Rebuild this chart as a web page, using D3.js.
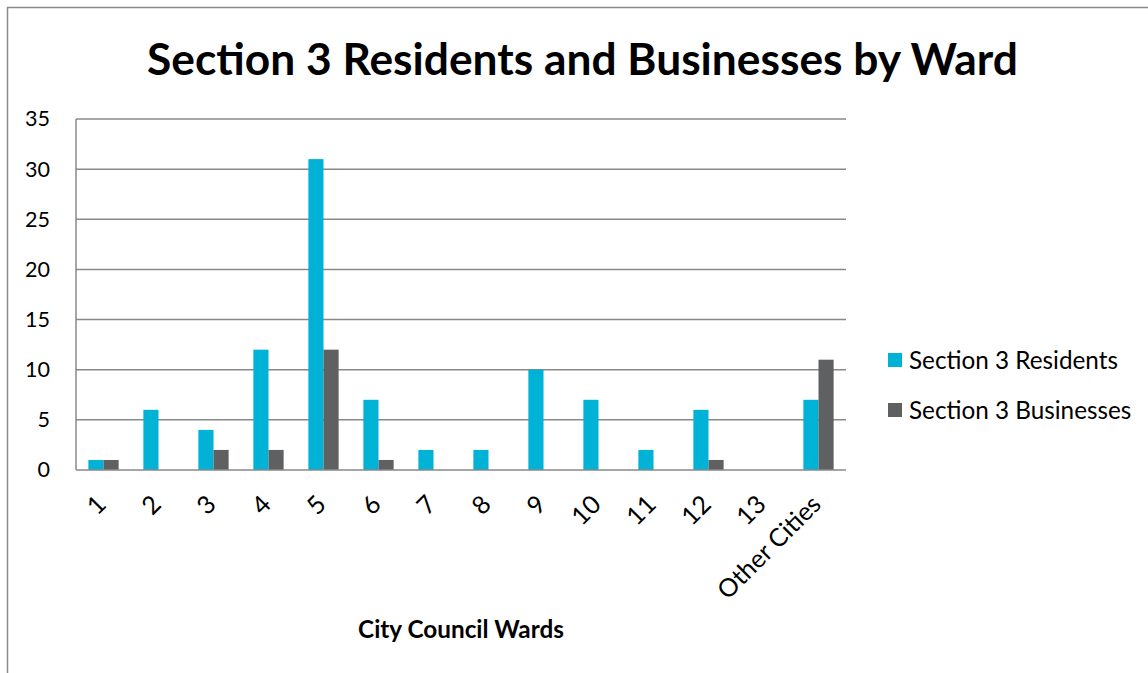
<!DOCTYPE html>
<html><head><meta charset="utf-8">
<script src="https://cdn.jsdelivr.net/npm/d3@7/dist/d3.min.js"></script>
<style>body{margin:0;background:#fff}svg{display:block}</style>
</head><body>
<svg id="c" width="1148" height="673"></svg>
<script>
const categories = ["1","2","3","4","5","6","7","8","9","10","11","12","13","Other Cities"];
const residents = [1,6,4,12,31,7,2,2,10,7,2,6,0,7];
const businesses = [1,0,2,2,12,1,0,0,0,0,0,1,0,11];
const seriesNames = ["Section 3 Residents","Section 3 Businesses"];
const colors = ["#00B2D6","#5F6062"];
const yTicks = [0,5,10,15,20,25,30,35];

const svg = d3.select("#c");
const font = "Lato, 'Open Sans', sans-serif";
const m = {l:76, r:846, t:119, b:470};

function fit(sel, base, target){
  const w = sel.node().getComputedTextLength();
  return base*target/w;
}

// outer border
svg.append("path").attr("d","M7.5,673 V7.5 H1148").attr("fill","none").attr("stroke","#8a8a8a").attr("stroke-width",1.5);

const x = d3.scaleBand().domain(categories).range([m.l,m.r]).paddingInner(0.45).paddingOuter(0.225);
const xs = d3.scaleBand().domain([0,1]).range([0,x.bandwidth()]);
const y = d3.scaleLinear().domain([0,35]).range([m.b,m.t]);

// gridlines
svg.append("g").selectAll("line").data(yTicks.filter(d=>d>0)).join("line")
  .attr("x1",m.l).attr("x2",m.r).attr("y1",d=>y(d)).attr("y2",d=>y(d))
  .attr("stroke","#888").attr("stroke-width",1.5);

// bars
const data = categories.map((c,i)=>({c, v:[residents[i],businesses[i]]}));
const g = svg.append("g");
g.selectAll("g").data(data).join("g").attr("transform",d=>`translate(${x(d.c)},0)`)
  .selectAll("rect").data(d=>d.v.map((v,k)=>({v,k}))).join("rect")
  .attr("x",d=>xs(d.k)).attr("width",xs.bandwidth())
  .attr("y",d=>y(d.v)).attr("height",d=>y(0)-y(d.v))
  .attr("fill",d=>colors[d.k]);

// axes lines
svg.append("line").attr("x1",m.l).attr("x2",m.l).attr("y1",m.t).attr("y2",m.b).attr("stroke","#888").attr("stroke-width",1.5);
svg.append("line").attr("x1",m.l).attr("x2",m.r).attr("y1",m.b).attr("y2",m.b).attr("stroke","#888").attr("stroke-width",1.5);

// y axis labels
const yAxis = d3.axisLeft(y).tickValues(yTicks).tickSize(0).tickPadding(26);
const ya = svg.append("g").attr("transform",`translate(${m.l},0)`).call(yAxis);
ya.select(".domain").remove();
const yl = ya.selectAll("text").attr("font-family",font).attr("font-size",20).attr("fill","#000");
const yfs = fit(yl.filter(d=>d===35), 20, 25);
yl.attr("font-size", yfs);

// x labels
const xa = svg.append("g").attr("transform",`translate(0,${m.b})`)
  .call(d3.axisBottom(d3.scaleBand().domain(categories).range([m.l,m.r])).tickSize(0));
xa.select(".domain").remove();
const xl = xa.selectAll("text").attr("font-family",font).attr("font-size",20).attr("fill","#000")
  .attr("text-anchor","end").attr("dy",0).attr("y",0);
const xfs = fit(xl.filter(d=>d==="Other Cities"), 20, 134);
xl.attr("font-size", xfs).attr("transform","translate(4,36) rotate(-45)");

// title
const t = svg.append("text").attr("x",582.5).attr("y",75).attr("text-anchor","middle")
  .attr("font-family",font).attr("font-weight","bold").attr("font-size",40).attr("fill","#000")
  .text("Section 3 Residents and Businesses by Ward");
t.attr("font-size", fit(t, 40, 871));

// axis title
const at = svg.append("text").attr("x",461).attr("y",638).attr("text-anchor","middle")
  .attr("font-family",font).attr("font-weight","bold").attr("font-size",20).attr("fill","#000")
  .text("City Council Wards");
at.attr("font-size", fit(at, 20, 206));

// legend
const lg = svg.append("g").selectAll("g").data(seriesNames).join("g")
  .attr("transform",(d,i)=>`translate(888,${360+i*50})`);
lg.append("rect").attr("x",0).attr("y",-7).attr("width",14).attr("height",14).attr("fill",(d,i)=>colors[i]);
const lt = lg.append("text").attr("x",21).attr("y",0).attr("dy","0.35em").attr("font-family",font).attr("font-size",20).attr("fill","#000").text(d=>d);
lt.attr("font-size", fit(lt.filter((d,i)=>i===0), 20, 209));
</script>
</body></html>
